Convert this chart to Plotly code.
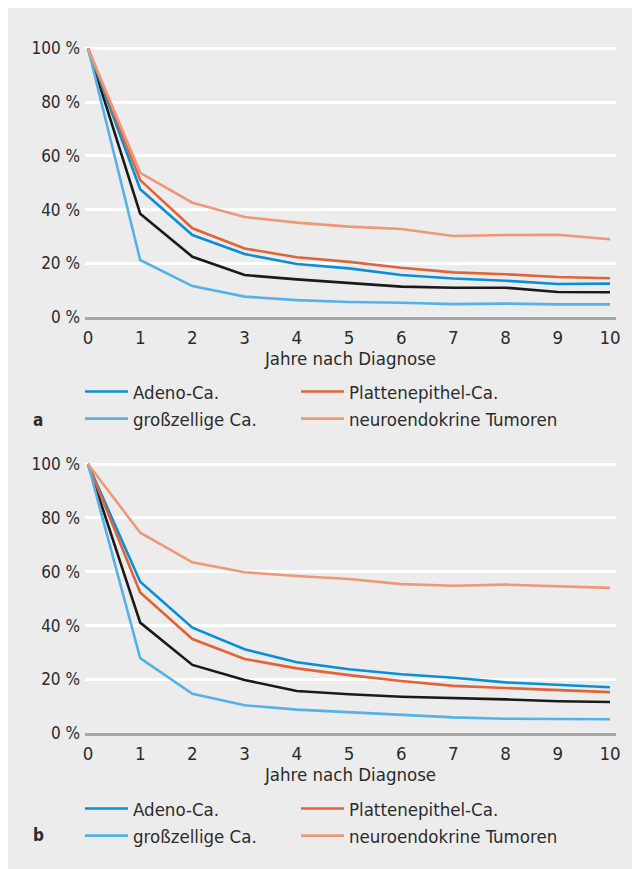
import plotly.graph_objects as go

years = [0, 1, 2, 3, 4, 5, 6, 7, 8, 9, 10]
x_ticks = [0, 1, 2, 3, 4, 5, 6, 7, 8, 9, 10]
y_ticks = [0, 20, 40, 60, 80, 100]
y_ticktext = ["0 %", "20 %", "40 %", "60 %", "80 %", "100 %"]
x_title = "Jahre nach Diagnose"

names = ["Adeno-Ca.", "Plattenepithel-Ca.", "großzellige Ca.", "neuroendokrine Tumoren"]

# panel a
a_adeno = [100, 47.6, 30.6, 23.5, 19.8, 18.2, 15.7, 14.4, 13.6, 12.4, 12.5]
a_platten = [100, 51.0, 33.1, 25.6, 22.3, 20.6, 18.4, 16.7, 16.0, 15.0, 14.5]
a_gross = [100, 21.3, 11.6, 7.7, 6.4, 5.7, 5.4, 4.9, 5.1, 4.8, 4.8]
a_neuro = [100, 53.7, 42.6, 37.3, 35.2, 33.7, 32.8, 30.2, 30.6, 30.7, 29.0]
a_all = [100, 38.5, 22.5, 15.7, 14.1, 12.8, 11.4, 11.0, 11.0, 9.4, 9.3]

# panel b
b_adeno = [100, 56.3, 39.2, 31.2, 26.4, 23.8, 21.9, 20.6, 18.9, 18.0, 17.1]
b_platten = [100, 52.3, 35.0, 27.6, 24.1, 21.6, 19.4, 17.6, 16.8, 16.0, 15.3]
b_gross = [100, 27.9, 14.7, 10.4, 8.8, 7.8, 6.8, 5.9, 5.4, 5.2, 5.2]
b_neuro = [100, 74.5, 63.5, 59.8, 58.4, 57.3, 55.4, 54.8, 55.2, 54.7, 54.0]
b_all = [100, 41.1, 25.4, 19.8, 15.7, 14.5, 13.6, 13.2, 12.6, 11.9, 11.6]

c_adeno = "#0a8fd6"
c_platten = "#e0643a"
c_gross = "#56b2e6"
c_neuro = "#ed9877"
c_all = "#1b1a1a"

FONT = "Liberation Sans Narrow, DejaVu Sans Condensed, sans-serif"
TXT = "#2b2b2b"
BG = "#ebeceb"

# the page adds an 8px body margin; the figure is sized to fill the window
OFF = 8
W, H = 640 - OFF, 869 - OFF

# target positions in window pixels
x0px, x10px = 88.0, 610.0
plot_l, plot_r = 85.0, 616.0
pw = plot_r - plot_l
ppu = (x10px - x0px) / 10
xr = [(plot_l - x0px) / ppu, 10 + (plot_r - x10px) / ppu]

def px(x):
    return (x - plot_l) / pw

def py(y):
    return (H - (y - OFF)) / H

top_zero, top_hundred = 317.3, 48.3
bot_zero, bot_hundred = 733.3, 464.0
ymax = 102
def dom(zero, hundred):
    ppp = (zero - hundred) / 100
    return [py(zero), py(zero - ymax * ppp)]

fig = go.Figure()

def add_panel(vals_all, adeno, platten, gross, neuro, xa, ya, leg_left, leg_right):
    fig.add_trace(go.Scatter(x=years, y=vals_all, mode="lines", line=dict(color=c_all, width=2.6),
                             xaxis=xa, yaxis=ya, showlegend=False))
    order = [(names[0], adeno, c_adeno, leg_left, 1), (names[1], platten, c_platten, leg_right, 1),
             (names[2], gross, c_gross, leg_left, 2), (names[3], neuro, c_neuro, leg_right, 2)]
    for nm, v, c, lg, r in order:
        fig.add_trace(go.Scatter(x=years, y=v, name=nm, mode="lines",
                                 line=dict(color=c, width=2.6),
                                 xaxis=xa, yaxis=ya, legend=lg, legendrank=r))

add_panel(a_all, a_adeno, a_platten, a_gross, a_neuro, "x", "y", "legend", "legend2")
add_panel(b_all, b_adeno, b_platten, b_gross, b_neuro, "x2", "y2", "legend3", "legend4")

axis_font = dict(family=FONT, size=17, color=TXT)
title_font = dict(family=FONT, size=18.5, color=TXT)
xcommon = dict(range=xr, tickvals=x_ticks, showgrid=False, showline=True, linecolor="#a6a7a7",
               linewidth=2.5, ticks="", tickfont=title_font, ticklabelstandoff=2,
               title=dict(text=x_title, font=title_font, standoff=0), zeroline=False,
               automargin=False)
ycommon = dict(range=[0, ymax], tickvals=y_ticks, ticktext=y_ticktext, showgrid=True,
               gridcolor="white", gridwidth=2.5, zeroline=False, showline=False, ticks="",
               tickfont=axis_font, ticklabelstandoff=4, automargin=False)

def leg(xpage, ypage):
    return dict(orientation="v", x=px(xpage), xanchor="left", y=py(ypage), yanchor="top",
                bgcolor="rgba(0,0,0,0)", font=dict(family=FONT, size=18.5, color=TXT),
                itemwidth=43, traceorder="normal", tracegroupgap=0)

col1, col2 = 80, 296
top_leg, bot_leg = 373, 790

fig.update_layout(
    width=W, height=H,
    margin=dict(l=plot_l - OFF, r=W - (plot_r - OFF), t=0, b=0, autoexpand=False),
    paper_bgcolor=BG, plot_bgcolor=BG,
    font=dict(family=FONT, size=17, color=TXT),
    xaxis=dict(domain=[0, 1], anchor="y", **xcommon),
    yaxis=dict(domain=dom(top_zero, top_hundred), anchor="x", **ycommon),
    xaxis2=dict(domain=[0, 1], anchor="y2", **xcommon),
    yaxis2=dict(domain=dom(bot_zero, bot_hundred), anchor="x2", **ycommon),
    legend=leg(col1, top_leg),
    legend2=leg(col2, top_leg),
    legend3=leg(col1, bot_leg),
    legend4=leg(col2, bot_leg),
)

for lab, ypx in [("a", 420), ("b", 835)]:
    fig.add_annotation(text="<b>%s</b>" % lab, xref="paper", yref="paper",
                       x=px(38), y=py(ypx), showarrow=False,
                       font=dict(family=FONT, size=17, color=TXT), xanchor="center", yanchor="middle")

fig.write_html("out.html")
